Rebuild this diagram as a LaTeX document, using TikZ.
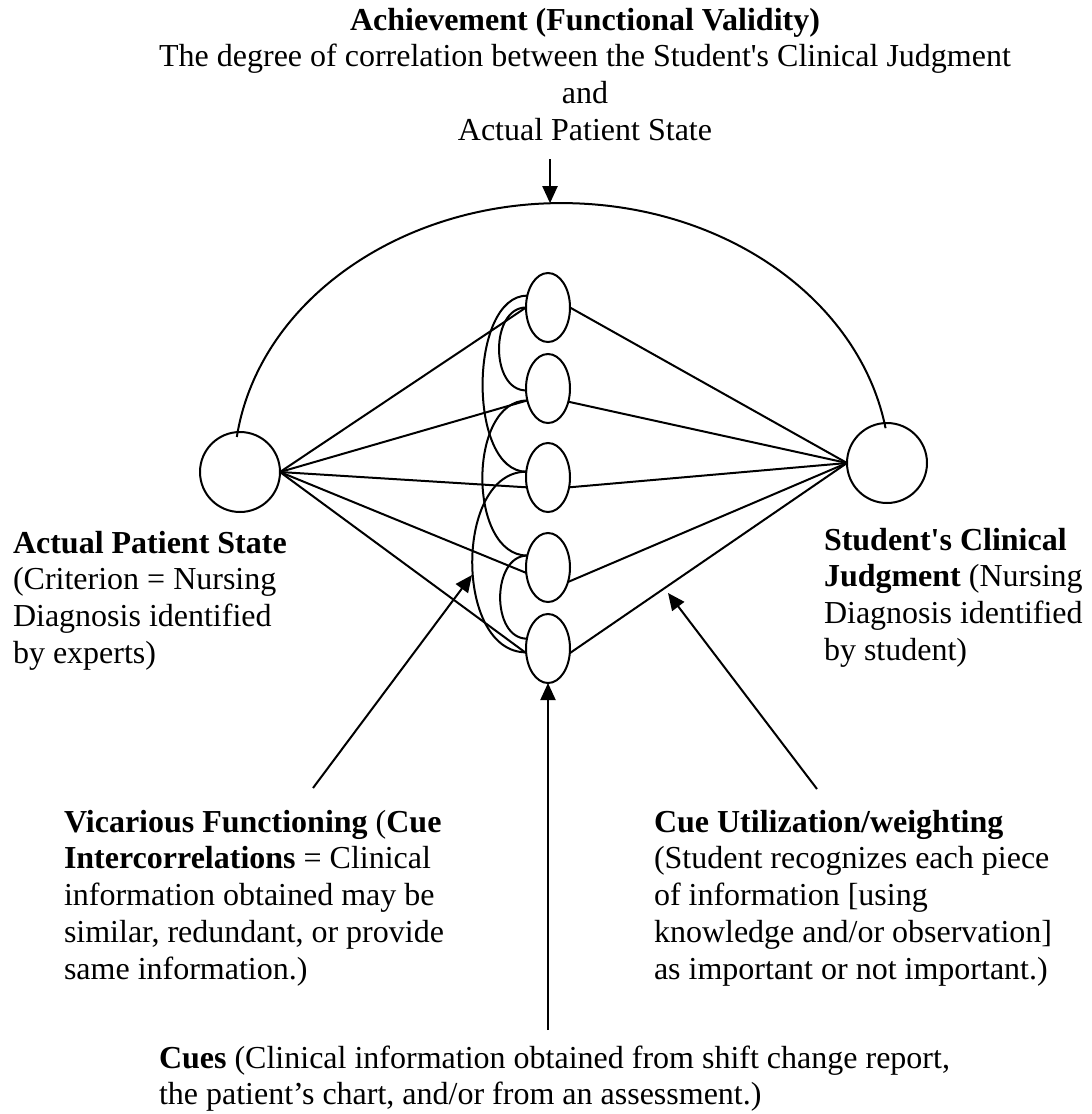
\documentclass[tikz,border=0pt]{standalone}
\usepackage{fontspec}
\setmainfont{Liberation Serif}
\usetikzlibrary{shapes.geometric,arrows.meta}
\tikzset{
  every path/.style={line width=1pt},
  cue/.style={draw, ellipse, minimum width=22pt, minimum height=34.5pt, inner sep=0pt, outer sep=0pt},
  state/.style={draw, circle, minimum size=40pt, inner sep=0pt, outer sep=0pt},
  txt/.style={inner sep=0pt, anchor=base west, font=\fontsize{16}{18.4}\selectfont},
  txtc/.style={inner sep=0pt, anchor=base, font=\fontsize{16}{18.4}\selectfont},
  arr/.style={-{Triangle[width=7.5pt,length=8.5pt]}},
}
\begin{document}
\begin{tikzpicture}[x=0.5pt,y=-0.5pt]
\useasboundingbox (0,0) rectangle (1092,1114);

% nodes
\node[state] (Lc) at (240,472) {};
\node[state] (Rc) at (887,463) {};
\node[cue] (e1) at (548,307.5) {};
\node[cue] (e2) at (548,388.5) {};
\node[cue] (e3) at (548,477.5) {};
\node[cue] (e4) at (548,567.5) {};
\node[cue] (e5) at (548,648.5) {};

% achievement arc
\coordinate (arcL) at (236.8,437);
\draw (arcL) arc[start angle=187.5, end angle=350.6, x radius=328, y radius=269];

% lines from patient state
\draw (Lc.east) -- (e1.180);
\draw (Lc.east) -- (e2.210);
\draw (Lc.east) -- (e3.205);
\draw (Lc.east) -- (e4.194);
\draw (Lc.east) -- (e5.192);
% lines to judgment
\draw (e1.0) -- (Rc.west);
\draw (e2.-33) -- (Rc.west);
\draw (e3.-25) -- (Rc.west);
\draw (e4.-36) -- (Rc.west);
\draw (e5.-12) -- (Rc.west);

% cue intercorrelations
\draw (e1.150) .. controls +(-59,0) and +(-59,0) .. (e3.165);
\draw (e1.180) .. controls +(-36,0) and +(-36,0) .. (e2.185);
\draw (e2.210) .. controls +(-60,0) and +(-60,0) .. (e4.150);
\draw (e3.165) .. controls +(-72,0) and +(-72,0) .. (e5.190);
\draw (e4.150) .. controls +(-36,0) and +(-36,0) .. (e5.155);

% arrows
\coordinate (achS) at (550,159);
\coordinate (achT) at (550,203.2);
\draw[arr] (achS) -- (achT);
\coordinate (cueS) at (548,1030);
\draw[arr] (cueS) -- (e5.south);
\coordinate (vicS) at (313,788);
\coordinate (vicT) at (472,575);
\draw[arr] (vicS) -- (vicT);
\coordinate (utilS) at (817,789);
\coordinate (utilT) at (668,593);
\draw[arr] (utilS) -- (utilT);

% texts
\node[txtc] (tAch) at (585,30) {\begin{tabular}[t]{@{}c@{}}\textbf{Achievement (Functional Validity)}\\
The degree of correlation between the Student\textquotesingle s Clinical Judgment\\
and\\
Actual Patient State\end{tabular}};

\node[txt] (tAPS) at (12,553) {\begin{tabular}[t]{@{}l@{}}\textbf{Actual Patient State}\\
(Criterion = Nursing\\
Diagnosis identified\\
by experts)\end{tabular}};

\node[txt] (tSCJ) at (823,550) {\begin{tabular}[t]{@{}l@{}}\textbf{Student\textquotesingle s Clinical}\\
\textbf{Judgment} (Nursing\\
Diagnosis identified\\
by student)\end{tabular}};

\node[txt] (tVic) at (63,832) {\begin{tabular}[t]{@{}l@{}}\textbf{Vicarious Functioning} (\textbf{Cue}\\
\textbf{Intercorrelations} = Clinical\\
information obtained may be\\
similar, redundant, or provide\\
same information.)\end{tabular}};

\node[txt] (tUtil) at (653,832) {\begin{tabular}[t]{@{}l@{}}\textbf{Cue Utilization/weighting}\\
(Student recognizes each piece\\
of information [using\\
knowledge and/or observation]\\
as important or not important.)\end{tabular}};

\node[txt] (tCues) at (158,1068) {\begin{tabular}[t]{@{}l@{}}\textbf{Cues} (Clinical information obtained from shift change report,\\
the patient’s chart, and/or from an assessment.)\end{tabular}};
\end{tikzpicture}
\end{document}
